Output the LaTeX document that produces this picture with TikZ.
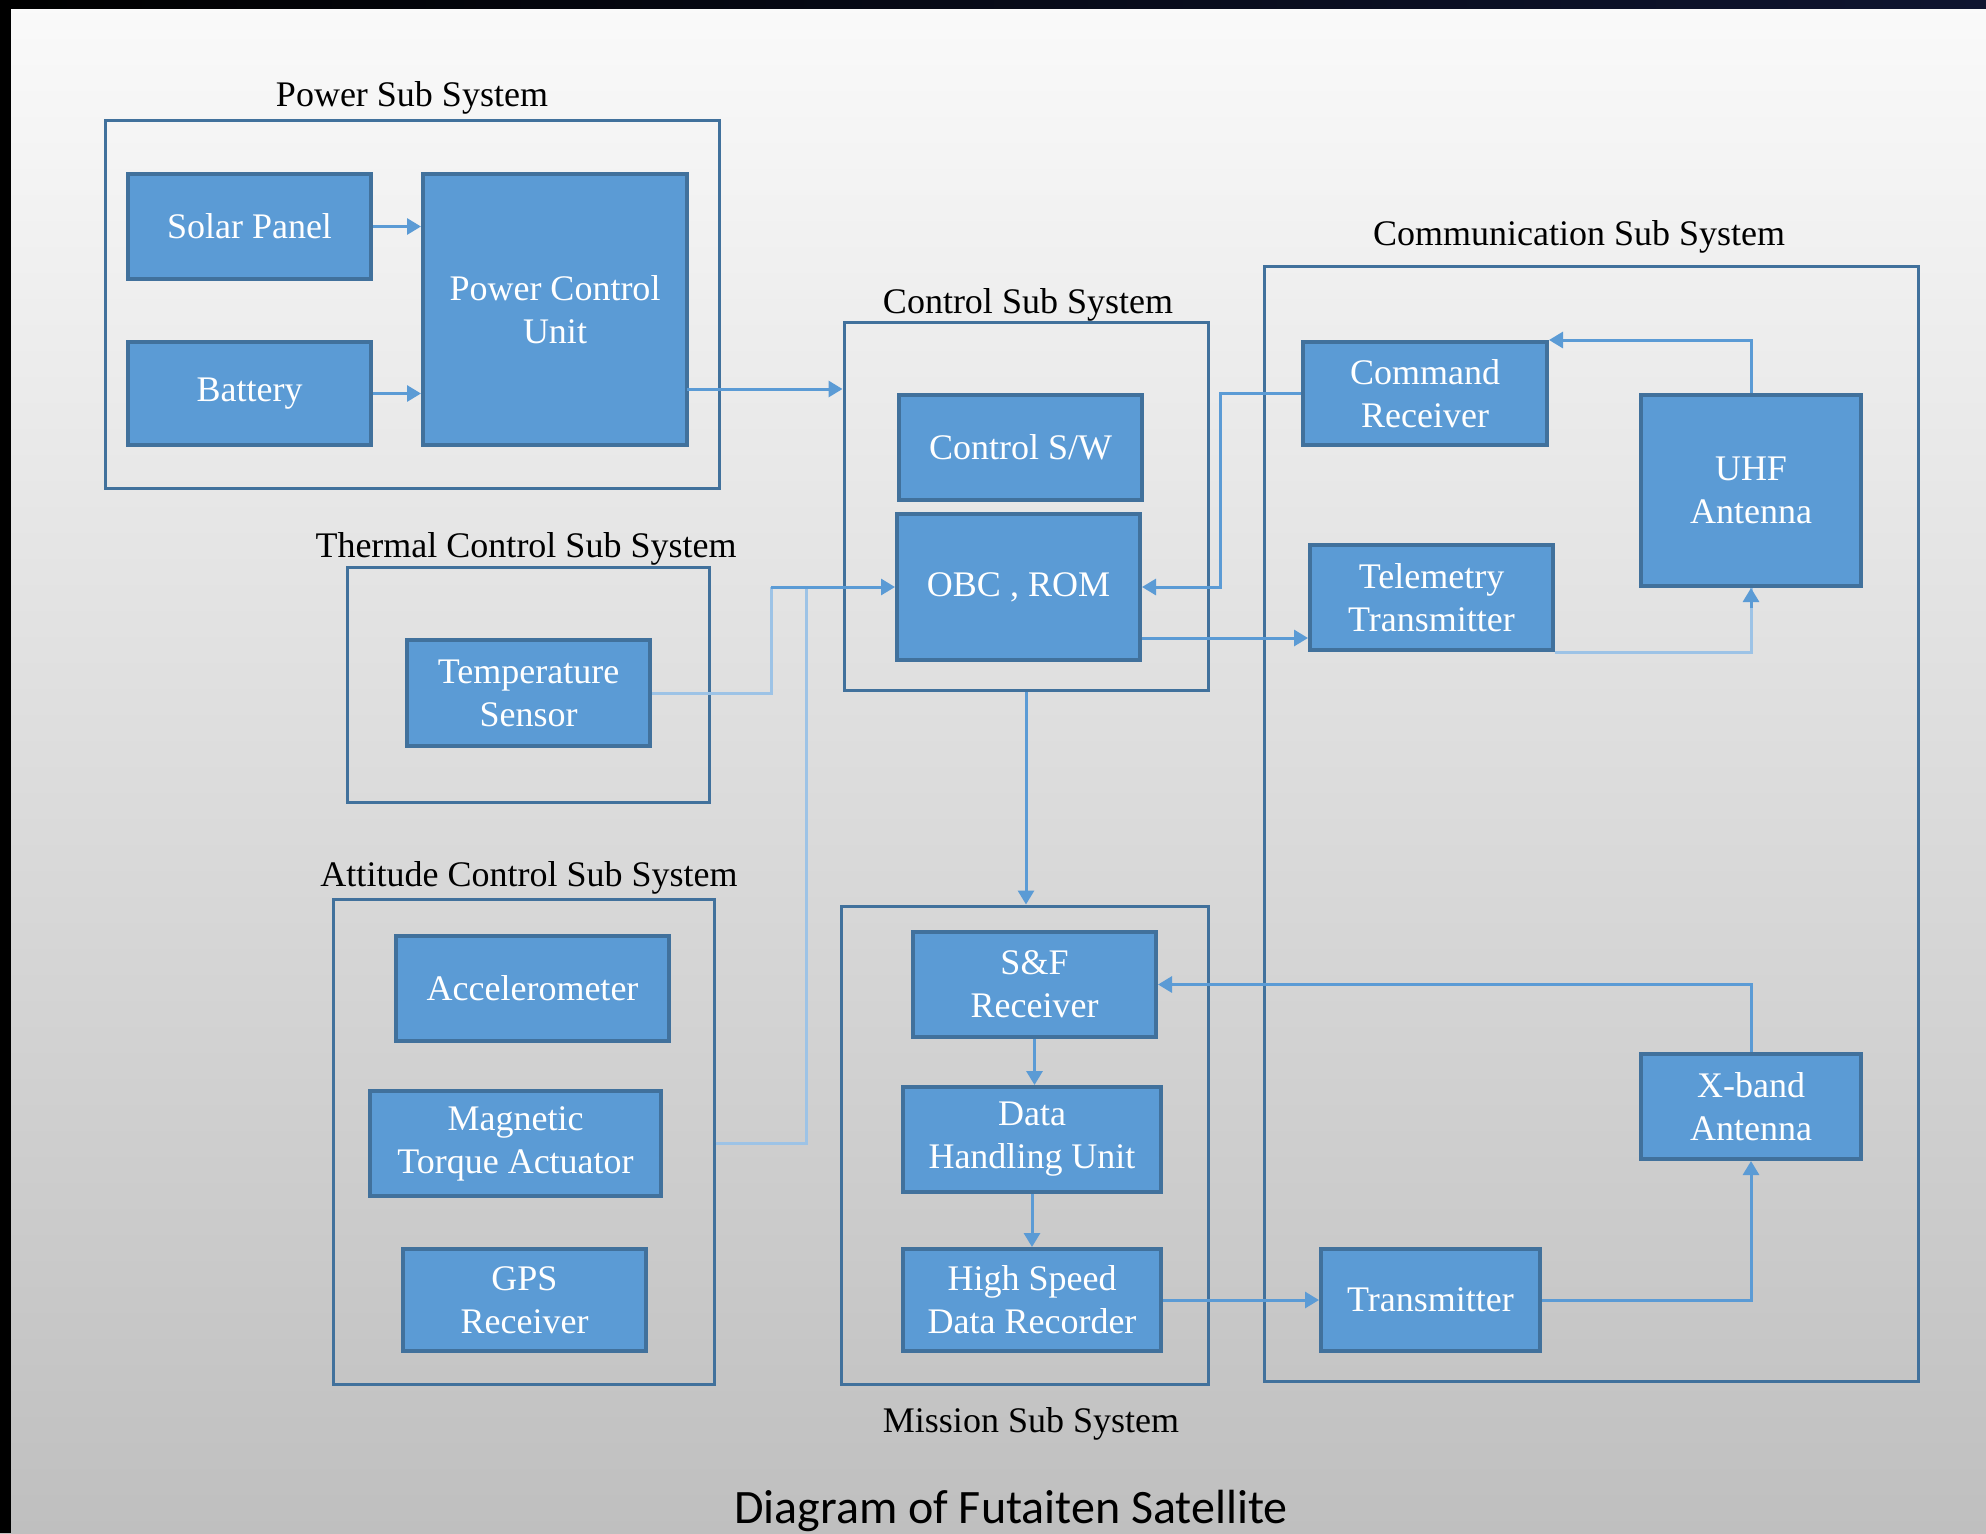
\documentclass[tikz,border=0pt]{standalone}
\usepackage{fontspec}
\setmainfont{Liberation Serif}
\newfontfamily\capfont{Carlito}
\usetikzlibrary{arrows.meta,positioning}

\definecolor{blkfill}{HTML}{5B9BD5}
\definecolor{blkline}{HTML}{41719C}
\definecolor{grpline}{HTML}{41719C}
\definecolor{conn}{HTML}{5B9BD5}
\definecolor{connlite}{HTML}{9DC3E6}
\definecolor{bgtop}{HTML}{FAFAFA}
\definecolor{bgmid}{HTML}{E4E4E4}
\definecolor{bgbot}{HTML}{BFBFBF}
\definecolor{bandend}{HTML}{0F1530}

\newcommand\boxfont{\fontsize{18}{21.5}\selectfont}

\begin{document}
\begin{tikzpicture}[
  x=0.5pt, y=-0.5pt,
  blk/.style={rectangle, draw=blkline, fill=blkfill, line width=2pt, text=white, align=center, inner sep=0pt, font=\boxfont},
  grp/.style={rectangle, draw=grpline, line width=1.5pt, inner sep=0pt},
  ttl/.style={text=black, font=\boxfont},
  arw/.style={-{Triangle[length=7pt,width=8pt]}, line width=1.5pt, draw=conn},
  lite/.style={-, line width=1.5pt, draw=connlite}
  ]

% background
\useasboundingbox (0,0) rectangle (1986,1533);
\shade[top color=bgtop, middle color=bgmid, bottom color=bgbot] (0,0) rectangle (1986,1533);
\shade[left color=black, right color=bandend] (0,0) rectangle (1986,8);
\fill[black] (0,0) rectangle (11,1533);

% sub system frames
\node [grp, minimum width=307pt, minimum height=184pt] (pwrbox) at (412,304) {};
\node [grp, minimum width=181pt, minimum height=117.5pt] (thmbox) at (528,684.5) {};
\node [grp, minimum width=190.5pt, minimum height=242.5pt] (attbox) at (523.5,1141.5) {};
\node [grp, minimum width=182pt, minimum height=184pt] (ctlbox) at (1026,506) {};
\node [grp, minimum width=183.5pt, minimum height=239pt] (misbox) at (1024.5,1145) {};
\node [grp, minimum width=327pt, minimum height=557.5pt] (comBox) at (1591,823.5) {};

\node [ttl] (pwrttl) at (412,98) {Power Sub System};
\node [ttl] (thmttl) at (526,549) {Thermal Control Sub System};
\node [ttl] (attttl) at (529,878) {Attitude Control Sub System};
\node [ttl] (ctlttl) at (1028,305) {Control Sub System};
\node [ttl] (misttl) at (1031,1424) {Mission Sub System};
\node [ttl] (comttl) at (1579,237) {Communication Sub System};

% power
\node [blk, minimum width=121.5pt, minimum height=52.5pt] (solar) at (249.5,226.5) {Solar Panel};
\node [blk, minimum width=121.5pt, minimum height=51.5pt] (batt) at (249.5,393.5) {Battery};
\node [blk, minimum width=132pt, minimum height=135.5pt] (pcu) at (555,309.5) {Power Control\\Unit};

% thermal, attitude
\node [blk, minimum width=121.5pt, minimum height=53pt] (temp) at (528.5,693) {Temperature\\Sensor};
\node [blk, minimum width=136.5pt, minimum height=52.5pt] (acc) at (532.5,988.5) {Accelerometer};
\node [blk, minimum width=145.5pt, minimum height=52.5pt] (mta) at (515.5,1143.5) {Magnetic\\Torque Actuator};
\node [blk, minimum width=121.5pt, minimum height=51pt] (gps) at (524.5,1300) {GPS\\Receiver};

% control, mission
\node [blk, minimum width=121.5pt, minimum height=52.5pt] (csw) at (1020.5,447.5) {Control S/W};
\node [blk, minimum width=121.5pt, minimum height=73pt] (obc) at (1018.5,587) {OBC , ROM};
\node [blk, minimum width=121.5pt, minimum height=52.5pt] (sf) at (1034.5,984.5) {S\&F\\Receiver};
\node [blk, minimum width=129pt, minimum height=52.5pt] (dhu) at (1032,1139.5) {Data\\Handling Unit};
\node [blk, minimum width=129pt, minimum height=51pt] (hsdr) at (1032,1300) {High Speed\\Data Recorder};

% communication
\node [blk, minimum width=122pt, minimum height=51.5pt] (cmd) at (1425,393.5) {Command\\Receiver};
\node [blk, minimum width=110pt, minimum height=95.5pt] (uhf) at (1751,490.5) {UHF\\Antenna};
\node [blk, minimum width=121.5pt, minimum height=52.5pt] (tlm) at (1431.5,597.5) {Telemetry\\Transmitter};
\node [blk, minimum width=110pt, minimum height=52.5pt] (xband) at (1751,1106.5) {X-band\\Antenna};
\node [blk, minimum width=109.5pt, minimum height=51pt] (tx) at (1430.5,1300) {Transmitter};

\node [font=\capfont\fontsize{24}{28}\selectfont] (caption) at (1011,1511) {Diagram of Futaiten Satellite};

% links
\coordinate (jt) at (771,587);
\coordinate (jm) at (806,587);
\coordinate (pout) at (687,389);

\draw [arw] (solar.east) -- (solar.east -| pcu.west);
\draw [arw] (batt.east) -- (batt.east -| pcu.west);
\draw [arw] (pout) -- (pout -| ctlbox.west);
\draw [lite] (temp.east) -| (jt);
\draw [lite] (attbox.east |- mta.east) -| (jm);
\draw [arw] (jt) -- (obc.west);
\draw [arw] (cmd.west) -- ++(-81,0) |- (obc.east);
\draw [arw] (obc.east |- 0,638) -- (tlm.west |- 0,638);
\draw [arw] (uhf.north) |- (cmd.north east);
\draw [lite] (tlm.south east) -| (uhf.south);
\draw [arw] ([yshift=-10pt]uhf.south) -- (uhf.south);
\draw [arw] (ctlbox.south) -- (ctlbox.south |- misbox.north);
\draw [arw] (xband.north) |- (sf.east);
\draw [arw] (sf.south) -- (sf.south |- dhu.north);
\draw [arw] (dhu.south) -- (dhu.south |- hsdr.north);
\draw [arw] (hsdr.east) -- (hsdr.east -| tx.west);
\draw [arw] (tx.east) -| (xband.south);

\end{tikzpicture}
\end{document}
